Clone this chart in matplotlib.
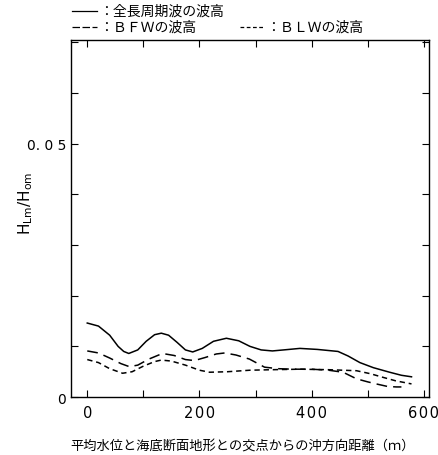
import matplotlib
matplotlib.use('Agg')
import matplotlib.pyplot as plt
from matplotlib.lines import Line2D

plt.rcParams['font.family'] = ['Noto Sans CJK JP', 'DejaVu Sans']

# 全長周期波の波高
x_all = [0, 20, 40, 55, 65, 74, 90, 105, 120, 132, 145, 160, 175, 188, 205, 225, 248,
         270, 290, 310, 330, 350, 379, 410, 447, 465, 486, 510, 539, 560, 578]
h_all = [0.0146, 0.0140, 0.0122, 0.0100, 0.0090, 0.0086, 0.0093, 0.0110, 0.0123, 0.0126,
         0.0122, 0.0108, 0.0093, 0.0089, 0.0096, 0.0110, 0.0116, 0.0111, 0.0100, 0.0093,
         0.0091, 0.0093, 0.0096, 0.0094, 0.0090, 0.0081, 0.0068, 0.0058, 0.0049, 0.0043, 0.0040]

# BFWの波高
x_bfw = [0, 20, 40, 60, 75, 90, 110, 134, 155, 175, 191, 210, 230, 245, 265, 289, 316,
         340, 367, 400, 430, 456, 480, 500, 515, 535, 551, 560]
h_bfw = [0.0091, 0.0087, 0.0077, 0.0066, 0.0060, 0.0063, 0.0075, 0.0086, 0.0082, 0.0074,
         0.0072, 0.0078, 0.0085, 0.0087, 0.0083, 0.0075, 0.0059, 0.0056, 0.0055, 0.0055,
         0.0053, 0.0049, 0.0036, 0.0030, 0.0026, 0.0021, 0.0020, 0.0020]

# BLWの波高
x_blw = [0, 20, 40, 63, 80, 100, 120, 132, 150, 175, 200, 218, 250, 290, 330, 379, 430,
         480, 505, 527, 550, 578]
h_blw = [0.0074, 0.0068, 0.0056, 0.0047, 0.0050, 0.0061, 0.0070, 0.0073, 0.0071, 0.0063,
         0.0053, 0.0049, 0.0050, 0.0053, 0.0054, 0.0055, 0.0054, 0.0052, 0.0046, 0.0039,
         0.0032, 0.0026]

xticks = [0, 100, 200, 300, 400, 500, 600]
xticklabels = ['0', '', '2\u200a0\u200a0', '', '4\u200a0\u200a0', '', '6\u200a0\u200a0']
yticks = [0, 0.01, 0.02, 0.03, 0.04, 0.05, 0.06, 0.07]
yticklabels = ['0', '', '', '', '', '0. 0 5', '', '']

fig = plt.figure(figsize=(4.39, 4.56), dpi=100)
ax = fig.add_axes([0.1617, 0.127, 0.8153, 0.783])

ax.plot(x_all, h_all, color='black', linewidth=1.1)
ax.plot(x_bfw, h_bfw, color='black', linewidth=1.1, linestyle=(0, (7, 4)))
ax.plot(x_blw, h_blw, color='black', linewidth=1.1, linestyle=(0, (3.5, 2.5)))

ax.set_xlim(-29, 609)
ax.set_ylim(0, 0.0704)
ax.set_xticks(xticks)
ax.set_xticklabels(xticklabels, fontsize=10.5, family='DejaVu Sans')
ax.set_yticks(yticks)
ax.set_yticklabels(yticklabels, fontsize=10, family='DejaVu Sans')
ax.tick_params(direction='in', top=True, right=True, length=5, width=0.8)
ax.tick_params(axis='x', pad=6)
for s in ax.spines.values():
    s.set_linewidth(1.0)

ax.set_xlabel('平均水位と海底断面地形との交点からの沖方向距離（ｍ）', fontsize=9.5)
ax.xaxis.set_label_coords(0.48, -0.118)
ax.set_ylabel(r'$\mathrm{H_{Lm}/H_{om}}$', fontsize=11, family='DejaVu Sans')
ax.yaxis.set_label_coords(-0.1, 0.546)

# 凡例
def legend_item(x0, x1, y, ls, text):
    fig.add_artist(Line2D([x0 / 439, x1 / 439], [1 - y / 456, 1 - y / 456],
                          color='black', linewidth=0.9, linestyle=ls))
    fig.text((x1 + 2) / 439, 1 - y / 456, text, fontsize=10, va='center', ha='left')

legend_item(72, 97, 12, '-', '：全長周期波の波高')
legend_item(72, 97, 28, (0, (6, 2)), '：ＢＦＷの波高')
legend_item(240, 264, 28, (0, (3, 2)), '：ＢＬＷの波高')

fig.savefig('out.png', dpi=100)
